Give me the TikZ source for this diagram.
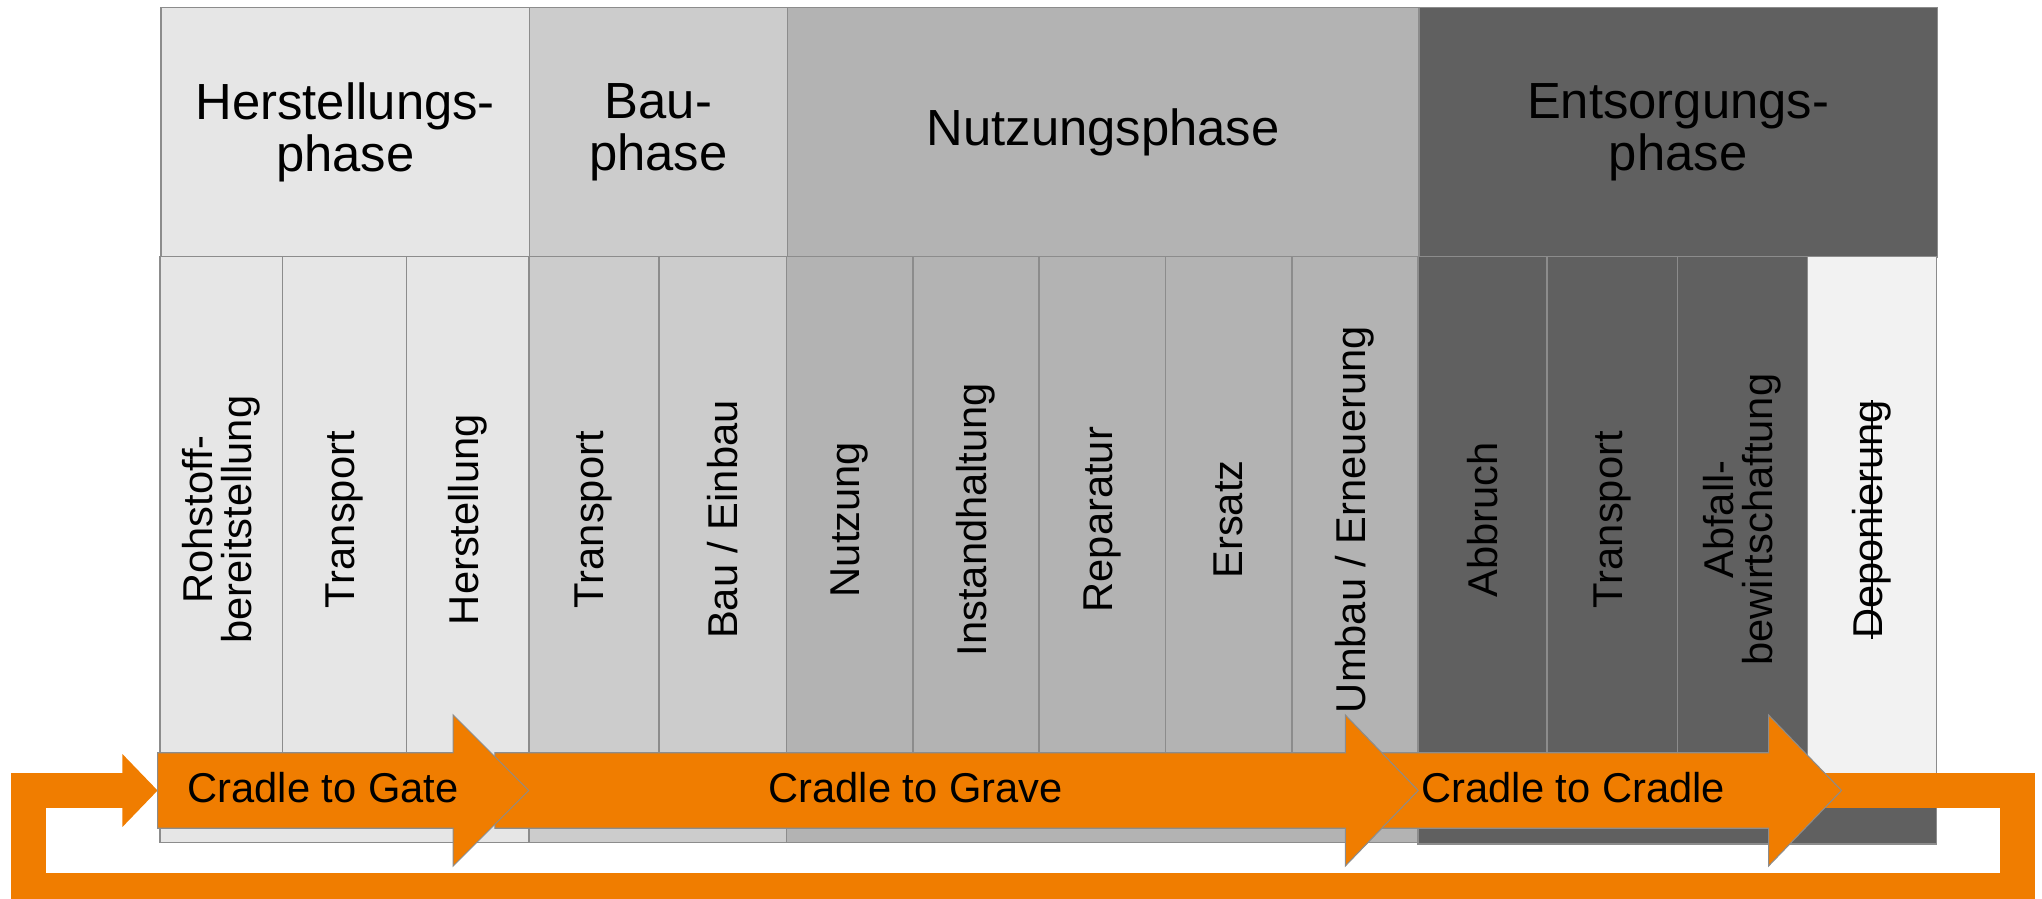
\documentclass[tikz,border=0pt]{standalone}
\usepackage{fontspec}
\setmainfont{Liberation Sans}
\usepackage{tikz}

\definecolor{hstgray}{HTML}{E6E6E6}
\definecolor{baugray}{HTML}{CCCCCC}
\definecolor{nutzgray}{HTML}{B3B3B3}
\definecolor{entsgray}{HTML}{606060}
\definecolor{depgray}{HTML}{F2F2F2}
\definecolor{gridgray}{HTML}{8C8C8C}
\definecolor{lcaorange}{HTML}{F07D00}

\begin{document}
\begin{tikzpicture}[x=1pt, y=-1pt,
  phasebox/.style={draw=gridgray, line width=1.2pt},
  phasehead/.style={phasebox, anchor=north west, minimum height=192pt, align=center, inner sep=0pt, font=\fontsize{39}{40}\selectfont},
  coltext/.style={rotate=90, align=center, inner sep=0pt, font=\fontsize{32}{30}\selectfont},
  bigarrow/.style={fill=lcaorange, draw=gridgray, line width=0.8pt, line join=miter},
  arrowtext/.style={inner sep=0pt, font=\fontsize{32}{34}\selectfont},
  loopline/.style={draw=lcaorange, line width=27pt, line join=miter}]

 \useasboundingbox (0,0) rectangle (1568,690);

 %%%  phases

 % phase bodies
 \draw [phasebox, fill=hstgray] (123,197) rectangle (406,647);
 \draw [phasebox, fill=baugray] (406,197) rectangle (604,647);
 \draw [phasebox, fill=nutzgray] (604,197) rectangle (1089,647);
 \draw [phasebox, fill=entsgray] (1089,197) rectangle (1487,648);

 % phase heads
 \node [phasehead, fill=hstgray, minimum width=283pt] (hst) at (123,5) {Herstellungs-\\phase};
 \node [phasehead, fill=baugray, minimum width=198pt] (bau) at (406,5) {Bau-\\phase};
 \node [phasehead, fill=nutzgray, minimum width=485pt] (nutz) at (604,5) {Nutzungsphase};
 \node [phasehead, fill=entsgray, minimum width=398pt] (ents) at (1089,5) {Entsorgungs-\\phase};

 %%%  modules

 \foreach \xa/\xb/\col/\txt [count=\i] in {
   123/217/hstgray/{Rohstoff-\\bereitstellung},
   217/312/hstgray/{Transport},
   312/406/hstgray/{Herstellung},
   406/506/baugray/{Transport},
   506/604/baugray/{Bau / Einbau},
   604/701/nutzgray/{Nutzung},
   701/798/nutzgray/{Instandhaltung},
   798/895/nutzgray/{Reparatur},
   895/992/nutzgray/{Ersatz},
   992/1089/nutzgray/{Umbau / Erneuerung},
   1089/1188/entsgray/{Abbruch},
   1188/1288/entsgray/{Transport},
   1288/1388/entsgray/{Abfall-\\bewirtschaftung},
   1388/1487/depgray/{Deponierung}}
 {
   \draw [phasebox, fill=\col] (\xa,197) rectangle (\xb,600);
   \node [coltext] (mod\i) at ({(\xa+\xb)/2},399) {\txt};
 }

 % struck out
 \draw [line width=1.6pt] ([xshift=-8.5pt]mod14.base west) -- ([xshift=-8.5pt]mod14.base east);

 %%%  arrows

 % loop back to the start
 \draw [loopline] (1400,607) -| (1549,684) -| (22,607) -- (95,607);
 \fill [lcaorange] (94,579) -- (121,607) -- (94,635) -- cycle;

 \draw [bigarrow] (1060,578) -- (1358,578) -- (1358,549) -- (1414,607) -- (1358,665) -- (1358,636) -- (1060,636) -- cycle;
 \node [arrowtext] (cradle) at (1208,605) {Cradle to Cradle};

 \draw [bigarrow] (380,578) -- (1033,578) -- (1033,549) -- (1089,607) -- (1033,665) -- (1033,636) -- (380,636) -- cycle;
 \node [arrowtext] (grave) at (703,605) {Cradle to Grave};

 \draw [bigarrow] (121,578) -- (348,578) -- (348,549) -- (406,607) -- (348,665) -- (348,636) -- (121,636) -- cycle;
 \node [arrowtext] (gate) at (248,605) {Cradle to Gate};

\end{tikzpicture}
\end{document}
